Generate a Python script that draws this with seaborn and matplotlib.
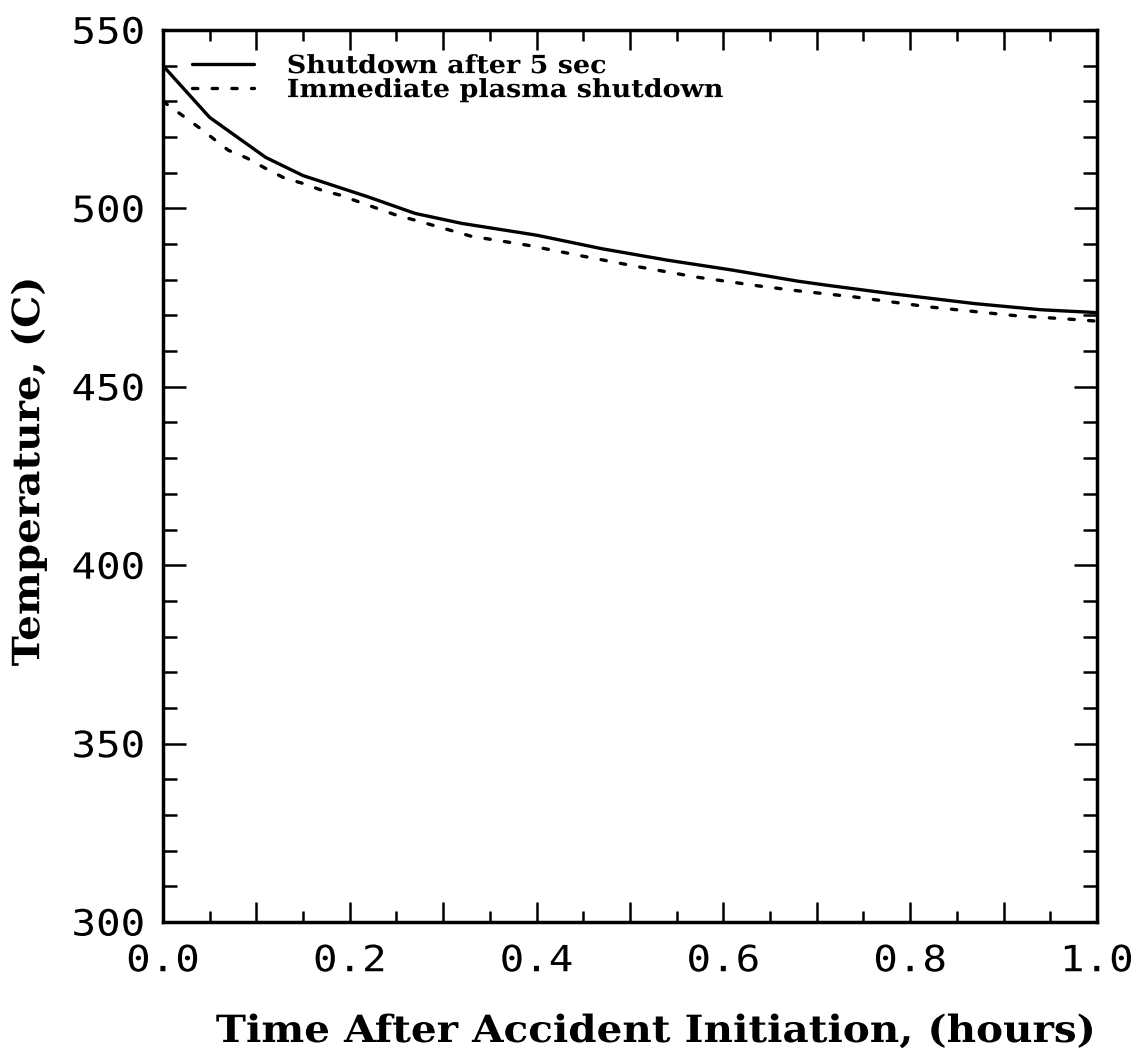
import numpy as np
import pandas as pd
import matplotlib
matplotlib.use("Agg")
import matplotlib.pyplot as plt
import seaborn as sns
from matplotlib.patheffects import AbstractPathEffect
from matplotlib.transforms import Affine2D
from matplotlib.ticker import FixedLocator

# Temperature history after the accident (time in hours, temperature in C)
time_delayed = [0.0, 0.05, 0.11, 0.15, 0.22, 0.27, 0.32, 0.40, 0.47, 0.54,
                0.61, 0.68, 0.71, 0.78, 0.87, 0.94, 1.0]
temp_delayed = [540.0, 525.5, 514.3, 509.2, 503.2, 498.6, 495.8, 492.5, 488.7,
                485.5, 482.7, 479.6, 478.5, 476.1, 473.3, 471.6, 470.8]

time_immediate = [0.0, 0.02, 0.04, 0.07, 0.09, 0.11, 0.13, 0.15, 0.17, 0.19,
                  0.21, 0.25, 0.27, 0.33, 0.39, 0.45, 0.51, 0.57, 0.64, 0.68,
                  0.74, 0.82, 0.91, 0.98, 1.0]
temp_immediate = [530.0, 526.2, 522.4, 516.3, 514.1, 511.2, 508.5, 507.0, 505.1,
                  503.7, 501.8, 498.1, 496.7, 492.2, 489.7, 486.6, 483.6, 480.8,
                  478.2, 476.9, 475.2, 472.4, 470.0, 468.8, 468.4]

series_names = ["Shutdown after 5 sec", "Immediate plasma shutdown"]

x_major = [0.0, 0.1, 0.2, 0.3, 0.4, 0.5, 0.6, 0.7, 0.8, 0.9, 1.0]
x_major_labels = ["0.0", "", "0.2", "", "0.4", "", "0.6", "", "0.8", "", "1.0"]
y_major = [300, 350, 400, 450, 500, 550]
y_major_labels = ["300", "350", "400", "450", "500", "550"]


class HStretch(AbstractPathEffect):
    """Widen text glyphs horizontally about a chosen anchor."""

    def __init__(self, sx, anchor="center"):
        super().__init__()
        self.sx = sx
        self.anchor = anchor

    def draw_path(self, renderer, gc, tpath, affine, rgbFace=None):
        ext = tpath.get_extents()
        if self.anchor == "right":
            px = ext.x1
        elif self.anchor == "left":
            px = ext.x0
        else:
            px = 0.5 * (ext.x0 + ext.x1)
        t = Affine2D().translate(-px, 0).scale(self.sx, 1.0).translate(px, 0)
        renderer.draw_path(gc, tpath, t + affine, rgbFace)


sns.set_style("ticks")
plt.rcParams["font.family"] = ["DejaVu Sans"]
plt.rcParams["text.color"] = "black"
plt.rcParams["axes.labelcolor"] = "black"
plt.rcParams["xtick.color"] = "black"
plt.rcParams["ytick.color"] = "black"

df = pd.concat([
    pd.DataFrame({"time": time_delayed, "temp": temp_delayed,
                  "case": series_names[0]}),
    pd.DataFrame({"time": time_immediate, "temp": temp_immediate,
                  "case": series_names[1]}),
], ignore_index=True)

fig = plt.figure(figsize=(11.46, 10.57), dpi=100)
ax = fig.add_axes([0.1422, 0.1277, 0.9572 - 0.1422, 0.9716 - 0.1277])

sns.lineplot(data=df, x="time", y="temp", style="case", color="black",
             dashes={series_names[0]: "", series_names[1]: (1.6, 4.3)},
             linewidth=2.4, ax=ax, legend=False, estimator=None, sort=False)
for line in ax.get_lines():
    line.set_dash_capstyle("round")
    line.set_solid_capstyle("round")

ax.set_xlim(0.0, 1.0)
ax.set_ylim(300, 550)

ax.xaxis.set_major_locator(FixedLocator(x_major))
ax.set_xticklabels(x_major_labels)
ax.xaxis.set_minor_locator(FixedLocator(np.arange(0.05, 1.0, 0.1)))
ax.yaxis.set_major_locator(FixedLocator(y_major))
ax.set_yticklabels(y_major_labels)
ax.yaxis.set_minor_locator(FixedLocator(np.arange(300, 551, 10)))

ax.tick_params(axis="both", which="both", direction="in", top=True,
               right=True, width=1.8, color="black", labelcolor="black")
ax.tick_params(axis="x", which="major", length=14.5, pad=16)
ax.tick_params(axis="x", which="minor", length=8)
ax.tick_params(axis="y", which="major", length=16.5, pad=13)
ax.tick_params(axis="y", which="minor", length=10)

tick_font = dict(family="DejaVu Sans Mono", size=26)
for lbl in ax.get_xticklabels():
    lbl.set(**tick_font)
    lbl.set_path_effects([HStretch(1.13, "center")])
for lbl in ax.get_yticklabels():
    lbl.set(**tick_font)
    lbl.set_path_effects([HStretch(1.13, "right")])

for sp in ax.spines.values():
    sp.set_linewidth(2.5)
    sp.set_color("black")

xlab = ax.set_xlabel("Time After Accident Initiation, (hours)",
                     family="DejaVu Serif", weight="bold", size=27,
                     color="black")
xlab.set_path_effects([HStretch(1.08, "center")])
ax.xaxis.set_label_coords(0.527, -0.102)
ylab = ax.set_ylabel("Temperature, (C)", family="DejaVu Serif",
                     weight="bold", size=27, color="black")
ylab.set_path_effects([HStretch(1.08, "center")])
ax.yaxis.set_label_coords(-0.124, 0.505)

# Legend drawn from the plotted lines
handles = ax.get_lines()[:2]
leg = ax.legend(handles, series_names, loc="upper left",
                bbox_to_anchor=(0.031, 0.973), frameon=False,
                prop=dict(family="DejaVu Serif", weight="bold", size=18),
                handlelength=2.5, handletextpad=1.3, labelspacing=0.0,
                borderpad=0, borderaxespad=0)
for txt in leg.get_texts():
    txt.set_color("black")
    txt.set_path_effects([HStretch(1.08, "left")])

fig.savefig("out.png", dpi=100, facecolor="white")
